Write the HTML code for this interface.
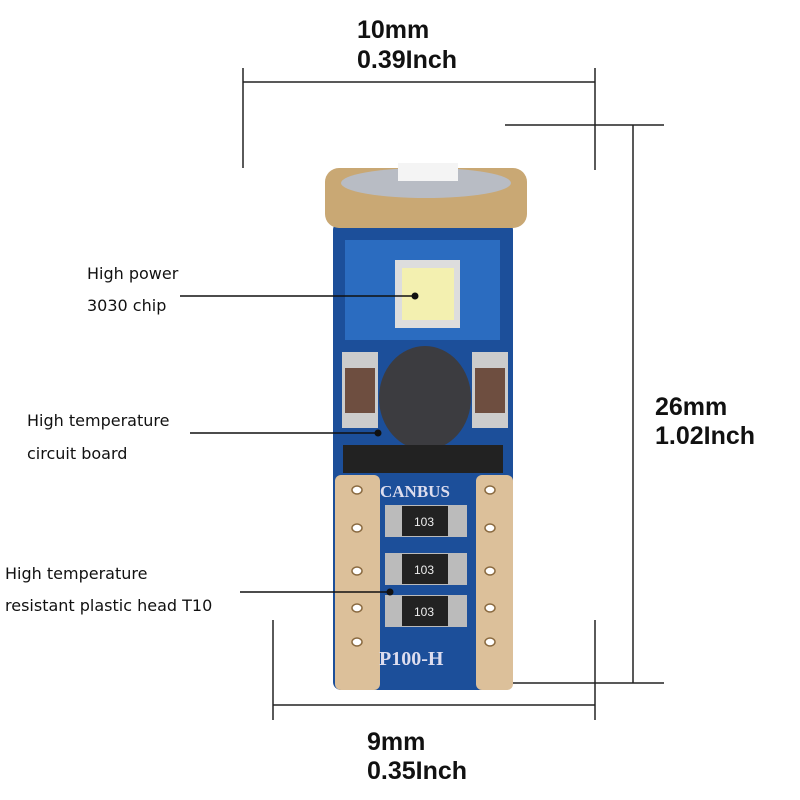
<!DOCTYPE html>
<html><head><style>body{margin:0;background:#fff}svg{display:block}</style></head><body>
<svg width="800" height="800" viewBox="0 0 800 800" xmlns="http://www.w3.org/2000/svg">
<g stroke="#222" stroke-width="1.5" fill="none">
<line x1="243" y1="82" x2="595" y2="82"/><line x1="243" y1="68" x2="243" y2="168"/><line x1="595" y1="68" x2="595" y2="170"/>
<line x1="633" y1="125" x2="633" y2="683"/><line x1="505" y1="125" x2="664" y2="125"/><line x1="505" y1="683" x2="664" y2="683"/>
<line x1="273" y1="705" x2="595" y2="705"/><line x1="273" y1="620" x2="273" y2="720"/><line x1="595" y1="620" x2="595" y2="720"/>
</g>
<g font-family="Liberation Sans, sans-serif" font-weight="bold" font-size="25" fill="#111">
<text x="357" y="38">10mm</text><text x="357" y="68">0.39Inch</text>
<text x="655" y="415">26mm</text><text x="655" y="444">1.02Inch</text>
<text x="367" y="750">9mm</text><text x="367" y="779">0.35Inch</text>
</g>
<g font-family="DejaVu Sans, sans-serif" font-size="16" fill="#111">
<text x="87" y="279">High power</text><text x="87" y="311">3030 chip</text>
<text x="27" y="426">High temperature</text><text x="27" y="459">circuit board</text>
<text x="5" y="579">High temperature</text><text x="5" y="611">resistant plastic head T10</text>
</g>
<!-- board -->
<rect x="333" y="222" width="180" height="468" rx="8" fill="#1c4f9a"/>
<rect x="345" y="240" width="155" height="100" fill="#2b6cc0"/>
<!-- legs -->
<rect x="335" y="475" width="45" height="215" rx="6" fill="#dcc09a"/>
<rect x="476" y="475" width="37" height="215" rx="6" fill="#dcc09a"/>
<g fill="#fff" stroke="#8a6a40" stroke-width="1.5">
<ellipse cx="357" cy="490" rx="5" ry="4"/><ellipse cx="357" cy="528" rx="5" ry="4"/><ellipse cx="357" cy="571" rx="5" ry="4"/><ellipse cx="357" cy="608" rx="5" ry="4"/><ellipse cx="357" cy="642" rx="5" ry="4"/>
<ellipse cx="490" cy="490" rx="5" ry="4"/><ellipse cx="490" cy="528" rx="5" ry="4"/><ellipse cx="490" cy="571" rx="5" ry="4"/><ellipse cx="490" cy="608" rx="5" ry="4"/><ellipse cx="490" cy="642" rx="5" ry="4"/>
</g>
<!-- cap -->
<rect x="325" y="168" width="202" height="60" rx="14" fill="#c9a874"/>
<ellipse cx="426" cy="183" rx="85" ry="15" fill="#b8bcc4"/>
<rect x="398" y="163" width="60" height="18" fill="#f4f4f4"/>
<!-- chip -->
<rect x="395" y="260" width="65" height="68" fill="#ddd"/>
<rect x="402" y="268" width="52" height="52" fill="#f3f0b0"/>
<!-- side caps -->
<rect x="342" y="352" width="36" height="76" fill="#ccc"/><rect x="345" y="368" width="30" height="45" fill="#6e4e40"/>
<rect x="472" y="352" width="36" height="76" fill="#ccc"/><rect x="475" y="368" width="30" height="45" fill="#6e4e40"/>
<ellipse cx="425" cy="398" rx="46" ry="52" fill="#3c3c40"/>
<rect x="343" y="445" width="160" height="28" fill="#222"/>
<text x="380" y="497" font-family="Liberation Serif, serif" font-weight="bold" font-size="17" fill="#dde">CANBUS</text>
<g fill="#bbb"><rect x="385" y="505" width="82" height="32"/><rect x="385" y="553" width="82" height="32"/><rect x="385" y="595" width="82" height="32"/></g>
<g fill="#222"><rect x="402" y="506" width="46" height="30"/><rect x="402" y="554" width="46" height="30"/><rect x="402" y="596" width="46" height="30"/></g>
<g font-family="Liberation Sans, sans-serif" font-size="12" fill="#eee"><text x="414" y="526">103</text><text x="414" y="574">103</text><text x="414" y="616">103</text></g>
<text x="379" y="665" font-family="Liberation Serif, serif" font-weight="bold" font-size="20" fill="#dde">P100-H</text>
<!-- leaders on top -->
<g stroke="#111" stroke-width="1.5">
<line x1="180" y1="296" x2="415" y2="296"/><line x1="190" y1="433" x2="378" y2="433"/><line x1="240" y1="592" x2="390" y2="592"/>
</g>
<g fill="#111"><circle cx="415" cy="296" r="3.5"/><circle cx="378" cy="433" r="3.5"/><circle cx="390" cy="592" r="3.5"/></g>
</svg>
</body></html>
